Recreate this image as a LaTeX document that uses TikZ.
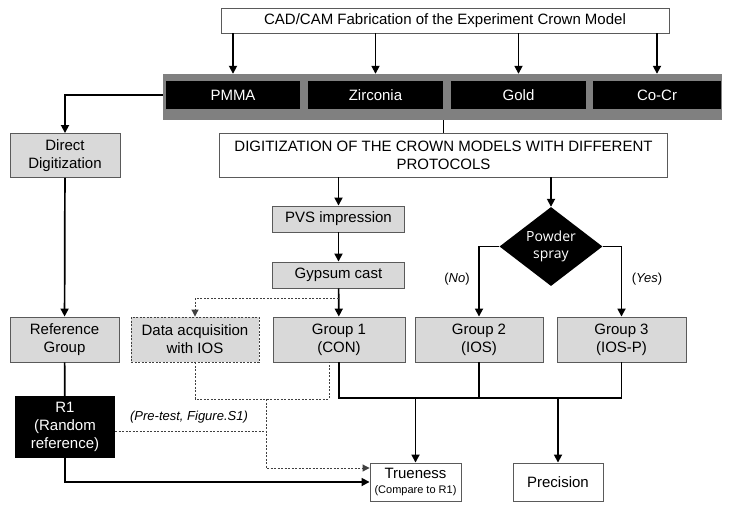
\documentclass[tikz,border=0pt]{standalone}
\usepackage{fontspec}
\setmainfont{Liberation Sans}
\newfontfamily\segoe{Open Sans}
\usetikzlibrary{arrows.meta,shapes.geometric}
\definecolor{bandgray}{HTML}{808080}
\definecolor{boxgray}{HTML}{D9D9D9}
\definecolor{bordergray}{HTML}{5A5A5A}
\definecolor{dashgray}{HTML}{404040}
\tikzset{
  box/.style={draw=bordergray, line width=0.9pt, inner sep=1pt, align=center,
    font=\fontsize{15}{18}\selectfont},
  lgbox/.style={box, fill=boxgray},
  wbox/.style={box, fill=white},
  bbox/.style={fill=black, text=white, align=center, inner sep=0pt,
    font=\fontsize{15}{18}\selectfont},
  ln/.style={line width=1.7pt, draw=black},
  arr/.style={ln, -{Triangle[length=8pt,width=8pt]}},
  dsh/.style={line width=1pt, draw=dashgray, dash pattern=on 2pt off 1.5pt},
  darr/.style={dsh, -{Triangle[length=7pt,width=7pt]}},
  lbl/.style={inner sep=0pt, font=\fontsize{13}{15}\selectfont\itshape},
}
\begin{document}
\begin{tikzpicture}[x=1pt,y=-1pt]
\useasboundingbox[fill=white] (0,0) rectangle (731,509);

% top
\node[wbox, minimum width=448, minimum height=25] (cad) at (445,20.5)
  {CAD/CAM Fabrication of the Experiment Crown Model};
\node[fill=bandgray, minimum width=559, minimum height=46, inner sep=0pt] (band) at (442.5,97) {};
\node[bbox, minimum width=134, minimum height=28] (pmma) at (233,95) {PMMA};
\node[bbox, minimum width=135, minimum height=28] (zirc) at (375.5,95) {Zirconia};
\node[bbox, minimum width=135, minimum height=28] (gold) at (518.5,95) {Gold};
\node[bbox, minimum width=128, minimum height=28] (cocr) at (657,95) {Co-Cr};

% second row
\node[lgbox, minimum width=110, minimum height=44] (direct) at (65,155.5) {Direct\\Digitization};
\node[wbox, minimum width=448, minimum height=44] (digit) at (443.5,155)
  {DIGITIZATION OF THE CROWN MODELS WITH DIFFERENT\\PROTOCOLS};
\node[lgbox, minimum width=132, minimum height=26] (pvs) at (338.5,219) {PVS impression};
\node[lgbox, minimum width=132, minimum height=26] (gyp) at (338.5,275) {Gypsum cast};
\node[diamond, fill=black, text=white, inner sep=0pt, aspect=1.3,
  minimum width=103, minimum height=79, align=center,
  font=\segoe\fontsize{14}{17}\selectfont] (dia) at (551,246.5) {Powder\\spray};

% groups
\node[lgbox, minimum width=109, minimum height=45] (ref) at (64.5,339.5) {Reference\\Group};
\node[lgbox, draw=dashgray, dash pattern=on 2pt off 1.5pt, minimum width=128, minimum height=45] (daq) at (195,339.5)
  {Data acquisition\\with IOS};
\node[lgbox, minimum width=132, minimum height=45] (g1) at (339,339.5) {Group 1\\(CON)};
\node[lgbox, minimum width=128, minimum height=45] (g2) at (479,339.5) {Group 2\\(IOS)};
\node[lgbox, minimum width=129, minimum height=45] (g3) at (621.5,339.5) {Group 3\\(IOS-P)};

\node[bbox, minimum width=100, minimum height=62] (r1) at (65,427) {R1\\(Random\\reference)};
\node[wbox, minimum width=91, minimum height=38, inner sep=0pt] (true) at (415.5,482)
  {Trueness\\[-3pt]{\fontsize{11}{12}\selectfont (Compare to R1)}};
\node[wbox, minimum width=90, minimum height=38] (prec) at (558,482) {Precision};

% labels
\node[inner sep=0pt, font=\fontsize{13}{15}\selectfont] (no) at (457,279) {(\textit{No})};
\node[inner sep=0pt, font=\fontsize{13}{15}\selectfont] (yes) at (647,279) {(\textit{Yes})};
\node[lbl] (pre) at (189,417) {(Pre-test, Figure.S1)};

% coordinates
\coordinate (dj) at (338.5,298);
\coordinate (bus) at (339,398);
\coordinate (dbus) at (266,399);
\coordinate (g1d) at (329,362);
\coordinate (dmid) at (266,431);

% connectors
\draw[arr] (cad.south -| pmma) -- (band.north -| pmma);
\draw[arr] (cad.south -| zirc) -- (band.north -| zirc);
\draw[arr] (cad.south -| gold) -- (band.north -| gold);
\draw[arr] (cad.south -| cocr) -- (band.north -| cocr);
\draw[arr] (band.west |- pmma) -| (direct.north);
\draw[ln] (band.south -| digit) -- (digit.north);
\draw[arr] (digit.south -| pvs) -- (pvs.north);
\draw[arr] (pvs) -- (gyp);
\draw[arr] (gyp) -- (g1);
\draw[darr] (dj) -| (daq.north);
\draw[arr] (digit.south -| dia) -- (dia.north);
\draw[arr] (dia.west) -| (g2.north);
\draw[arr] (dia.east) -| (g3.north);
\draw[arr] (direct) -- (ref);
\draw[ln] (ref) -- (r1);
\draw[arr] (r1.south) |- (true.west);
\draw[ln] (g1.south) |- (bus -| g3.south) -- (g3.south);
\draw[ln] (g2.south) -- (bus -| g2.south);
\draw[arr] (bus -| true.north) -- (true.north);
\draw[arr] (bus -| prec.north) -- (prec.north);
\draw[dsh] (daq.south) |- (dbus -| g1d) -- (g1d);
\draw[darr] (dbus) |- ([yshift=14pt]true.west);
\draw[dsh] ([yshift=-4pt]r1.east) -- (dmid);
\end{tikzpicture}
\end{document}
